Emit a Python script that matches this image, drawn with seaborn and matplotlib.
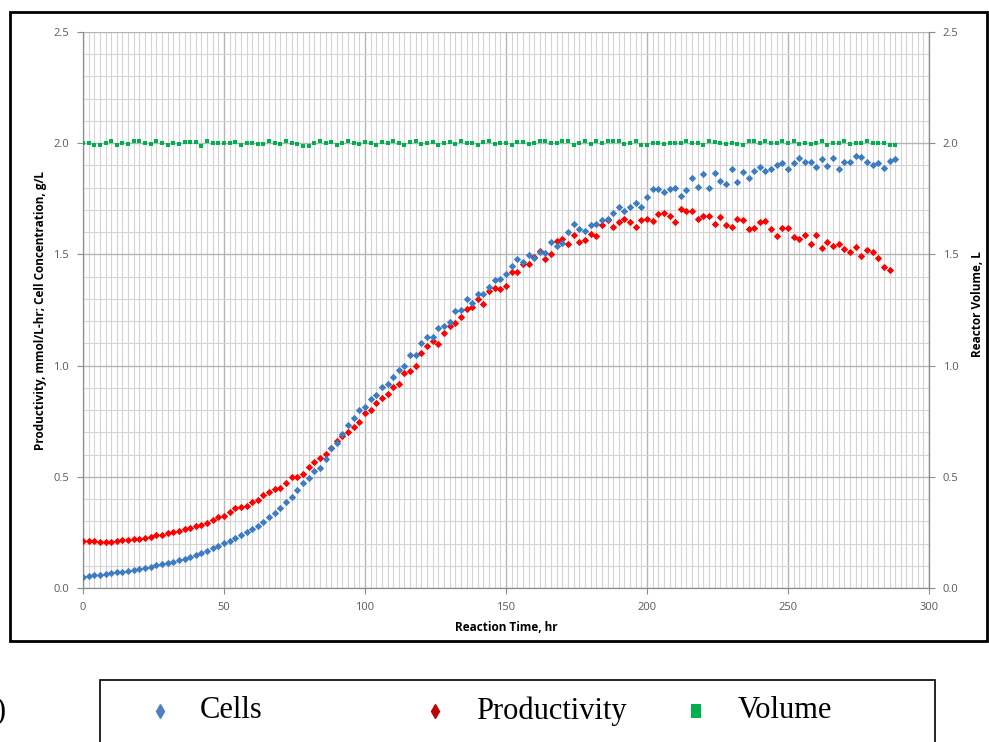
import numpy as np
import pandas as pd
import matplotlib
matplotlib.use("Agg")
import matplotlib.pyplot as plt
from matplotlib.ticker import MultipleLocator, FormatStrFormatter
from matplotlib.patches import Rectangle
from matplotlib.lines import Line2D
import seaborn as sns

# ---------------- data ----------------
HOURS = list(range(0, 290, 2))          # sampling every 2 h, 0..288

CELLS = [
    0.051, 0.054, 0.057, 0.060, 0.064, 0.069, 0.070, 0.073, 0.076, 0.081,
    0.087, 0.091, 0.096, 0.103, 0.109, 0.114, 0.118, 0.126, 0.132, 0.141,
    0.148, 0.156, 0.166, 0.178, 0.190, 0.203, 0.213, 0.224, 0.237, 0.252,
    0.265, 0.280, 0.298, 0.318, 0.338, 0.360, 0.385, 0.410, 0.440, 0.470,
    0.495, 0.525, 0.538, 0.579, 0.628, 0.653, 0.691, 0.733, 0.764, 0.800,
    0.812, 0.848, 0.868, 0.905, 0.917, 0.950, 0.980, 0.998, 1.048, 1.048,
    1.100, 1.130, 1.130, 1.168, 1.178, 1.196, 1.247, 1.250, 1.301, 1.280,
    1.322, 1.322, 1.355, 1.385, 1.388, 1.410, 1.449, 1.479, 1.467, 1.497,
    1.482, 1.511, 1.508, 1.557, 1.538, 1.550, 1.602, 1.635, 1.613, 1.605,
    1.632, 1.635, 1.655, 1.658, 1.685, 1.715, 1.694, 1.715, 1.730, 1.712,
    1.760, 1.793, 1.794, 1.779, 1.793, 1.800, 1.763, 1.790, 1.842, 1.802,
    1.860, 1.797, 1.868, 1.831, 1.817, 1.884, 1.827, 1.872, 1.842, 1.877,
    1.894, 1.877, 1.882, 1.902, 1.910, 1.884, 1.910, 1.932, 1.917, 1.917,
    1.894, 1.927, 1.897, 1.932, 1.884, 1.914, 1.914, 1.942, 1.937, 1.914,
    1.902, 1.910, 1.890, 1.921, 1.930,
]

PROD_HOURS = HOURS[:-1]                 # productivity stops at 286 h
PRODUCTIVITY = [
    0.211, 0.210, 0.210, 0.208, 0.207, 0.207, 0.211, 0.214, 0.217, 0.220,
    0.222, 0.225, 0.228, 0.240, 0.237, 0.247, 0.252, 0.256, 0.264, 0.270,
    0.277, 0.285, 0.291, 0.306, 0.318, 0.324, 0.343, 0.358, 0.363, 0.369,
    0.388, 0.396, 0.418, 0.433, 0.444, 0.451, 0.471, 0.498, 0.500, 0.513,
    0.545, 0.565, 0.583, 0.601, 0.628, 0.662, 0.683, 0.703, 0.725, 0.745,
    0.788, 0.800, 0.833, 0.853, 0.872, 0.902, 0.917, 0.965, 0.976, 1.000,
    1.058, 1.088, 1.112, 1.097, 1.148, 1.180, 1.190, 1.217, 1.253, 1.262,
    1.299, 1.277, 1.337, 1.348, 1.343, 1.359, 1.422, 1.422, 1.457, 1.455,
    1.490, 1.515, 1.478, 1.502, 1.562, 1.568, 1.545, 1.589, 1.557, 1.565,
    1.590, 1.583, 1.632, 1.655, 1.622, 1.647, 1.658, 1.644, 1.623, 1.655,
    1.658, 1.652, 1.680, 1.685, 1.673, 1.646, 1.703, 1.695, 1.694, 1.658,
    1.673, 1.673, 1.637, 1.667, 1.634, 1.622, 1.658, 1.655, 1.614, 1.617,
    1.647, 1.652, 1.614, 1.583, 1.617, 1.617, 1.577, 1.569, 1.587, 1.547,
    1.586, 1.529, 1.557, 1.539, 1.547, 1.524, 1.511, 1.533, 1.493, 1.520,
    1.509, 1.484, 1.445, 1.430,
]

VOLUME = [
    2.000, 2.000, 1.993, 1.993, 2.000, 2.008, 1.993, 2.000, 1.996, 2.008,
    2.008, 2.003, 1.996, 2.008, 2.003, 1.993, 2.000, 1.996, 2.006, 2.006,
    2.006, 1.988, 2.010, 2.000, 2.000, 2.003, 2.000, 2.006, 1.993, 2.003,
    2.000, 1.996, 1.996, 2.008, 2.000, 1.996, 2.008, 2.003, 1.996, 1.988,
    1.988, 2.003, 2.008, 2.000,
    2.005, 1.994, 2.003, 2.008, 2.000, 1.996, 2.006, 2.003, 1.993, 2.005,
    2.000, 2.008, 2.003, 1.994, 2.005, 2.008, 1.997, 2.000, 2.006, 1.993,
    2.003, 2.005, 1.996, 2.008, 2.000, 2.003, 1.994, 2.005, 2.008, 1.997,
    2.003, 2.000, 1.993, 2.006, 2.005, 1.996, 2.003,
    2.008, 2.008, 2.003, 2.003, 2.008, 2.008, 1.991, 2.003, 2.011, 1.996,
    2.008, 2.003, 2.008, 2.011, 2.008, 1.996, 2.003, 2.011, 1.993, 1.993,
    2.003, 1.999, 1.996, 2.003, 2.000, 2.000, 2.008, 2.000, 2.003, 1.994,
    2.011, 2.006, 2.000, 1.997, 2.003, 1.996, 1.991, 2.008,
    2.011, 2.003, 2.011, 2.000, 2.003, 2.011, 2.000, 2.008, 1.996, 2.003,
    1.996, 2.003, 2.008, 1.993, 2.003, 1.999, 2.011, 1.996, 2.000, 2.003,
    2.008, 2.000, 1.999, 2.003, 1.994, 1.994,
]

X_TICKS = [0, 50, 100, 150, 200, 250, 300]
Y_TICKS = [0.0, 0.5, 1.0, 1.5, 2.0, 2.5]
LEGEND_LABELS = ["Cells", "Productivity", "Volume"]

# ---------------- styling ----------------
C_CELLS = "#3D7CC2"
C_PROD = "#FF0000"
C_VOL = "#00B050"
TICK_GRAY = "#595959"
AXIS_GRAY = "#8C8C8C"

plt.rcParams["font.family"] = ["Open Sans", "DejaVu Sans"]

fig = plt.figure(figsize=(9.89, 7.42), dpi=100)
W, H = 989.0, 742.0
ax = fig.add_axes([83 / W, 154 / H, 846 / W, 556 / H])

df_cells = pd.DataFrame({"t": HOURS, "v": CELLS})
df_prod = pd.DataFrame({"t": PROD_HOURS, "v": PRODUCTIVITY})
df_vol = pd.DataFrame({"t": HOURS, "v": VOLUME})

sns.scatterplot(data=df_prod, x="t", y="v", ax=ax, marker="D", s=14,
                color=C_PROD, linewidth=0, zorder=3, legend=False)
sns.scatterplot(data=df_cells, x="t", y="v", ax=ax, marker="D", s=14,
                color=C_CELLS, linewidth=0, zorder=4, legend=False)

ax.set_xlim(X_TICKS[0], X_TICKS[-1])
ax.set_ylim(Y_TICKS[0], Y_TICKS[-1])
ax.set_xticks(X_TICKS)
ax.set_yticks(Y_TICKS)
ax.xaxis.set_minor_locator(MultipleLocator(2))
ax.yaxis.set_minor_locator(MultipleLocator(0.1))
ax.yaxis.set_major_formatter(FormatStrFormatter("%.1f"))
ax.set_axisbelow(True)
ax.grid(which="minor", color="#D4D4D4", linewidth=0.8)
ax.grid(which="major", color="#B5B5B5", linewidth=1.0)
ax.tick_params(which="minor", length=0)
ax.tick_params(which="major", length=4, color=AXIS_GRAY, labelsize=8,
               labelcolor=TICK_GRAY, pad=6)
ax.spines["top"].set_visible(False)
for side in ["left", "bottom", "right"]:
    ax.spines[side].set_color(AXIS_GRAY)
    ax.spines[side].set_linewidth(0.9)

ax.set_xlabel("Reaction Time, hr", fontsize=8.5, fontweight="bold", color="black")
ax.set_ylabel("Productivity, mmol/L-hr; Cell Concentration, g/L", fontsize=8.5,
              fontweight="bold", color="black")
ax.xaxis.set_label_coords(0.5, -0.06)
ax.yaxis.set_label_coords(-0.042, 0.5)

ax2 = ax.twinx()
sns.scatterplot(data=df_vol, x="t", y="v", ax=ax2, marker="s", s=12,
                color=C_VOL, linewidth=0, zorder=3, legend=False)
ax2.set_ylim(Y_TICKS[0], Y_TICKS[-1])
ax2.set_yticks(Y_TICKS)
ax2.yaxis.set_major_formatter(FormatStrFormatter("%.1f"))
ax2.tick_params(which="major", length=4, color=AXIS_GRAY, labelsize=8,
                labelcolor=TICK_GRAY, pad=6)
ax2.grid(False)
for side in ["top", "left", "bottom"]:
    ax2.spines[side].set_visible(False)
ax2.spines["right"].set_color(AXIS_GRAY)
ax2.set_ylabel("Reactor Volume, L", fontsize=8.5, fontweight="bold", color="black")
ax2.yaxis.set_label_coords(1.05, 0.51)
ax2.set_xlabel("")

# outer frame around the chart
fig.add_artist(Rectangle((10 / W, (H - 641) / H), (987 - 10) / W, (641 - 12) / H,
                         transform=fig.transFigure, fill=False,
                         edgecolor="black", linewidth=2))

# legend box below the chart
fig.add_artist(Rectangle((100 / W, (H - 760) / H), (935 - 100) / W, (760 - 680) / H,
                         transform=fig.transFigure, fill=False,
                         edgecolor="black", linewidth=1.2))
ly = (H - 711) / H
fig.add_artist(Line2D([160 / W], [ly], transform=fig.transFigure, marker="d",
                      markersize=7.5, color="#4F81BD", linestyle="none"))
fig.add_artist(Line2D([435 / W], [ly], transform=fig.transFigure, marker="d",
                      markersize=7.5, color="#C00000", linestyle="none"))
fig.add_artist(Rectangle((691 / W, (H - 718) / H), 10 / W, 14 / H,
                         transform=fig.transFigure, facecolor=C_VOL, edgecolor="none"))
serif = ["Liberation Serif", "DejaVu Serif"]
for xpx, lab in zip([200, 476, 738], LEGEND_LABELS):
    fig.text(xpx / W, ly, lab, fontsize=22, family=serif, va="center", ha="left")
fig.text(-5 / W, ly, ")", fontsize=22, family=serif, va="center", ha="left")

fig.savefig("out.png", dpi=100)
